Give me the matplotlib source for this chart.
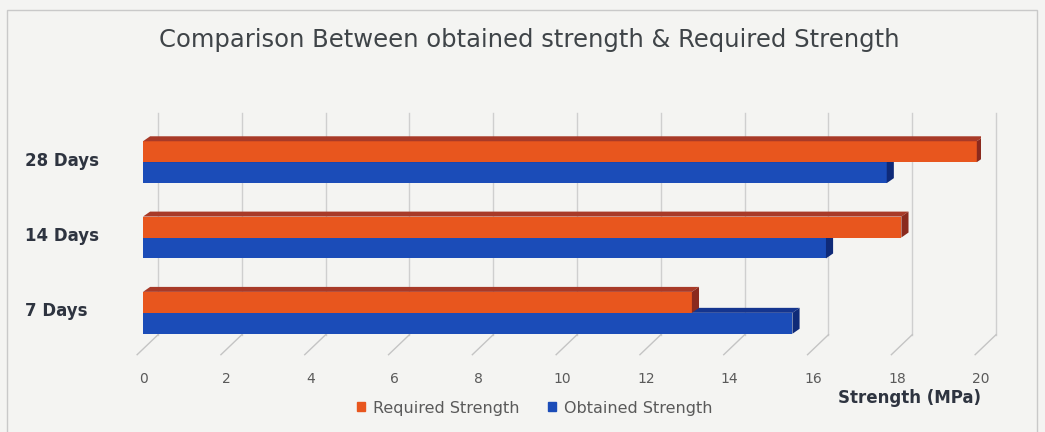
import numpy as np
import matplotlib.pyplot as plt
from matplotlib.patches import Polygon, Rectangle

plt.rcParams['font.family'] = ['DejaVu Sans']

ages = ['7 Days', '14 Days', '28 Days']
required = [13.1, 18.1, 19.9]
obtained = [15.5, 16.3, 17.75]
xticks = [0, 2, 4, 6, 8, 10, 12, 14, 16, 18, 20]

red, red_top, red_side = '#e8561e', '#a83a28', '#8a2a1e'
blue, blue_top, blue_side = '#1b4cb8', '#15358f', '#0f2a78'

fig = plt.figure(figsize=(10.45, 4.32), dpi=100, facecolor='#f4f4f2')
ax = fig.add_axes([143/1045, 1 - 358/432, 838/1045, 241/432])
ax.set_facecolor('none')
ax.set_xlim(0, 20)
ax.set_ylim(-0.6, 2.6)

# chart frame
fig.add_artist(Rectangle((7/1045, -0.05), 1030/1045, 1 - 10/432 + 0.05,
                         transform=fig.transFigure, fill=False,
                         edgecolor='#c9c9c9', lw=1))

# back wall gridlines and floor diagonals (3D look)
wall_dx, wall_top, wall_bot = 0.36, 2.65, -0.29
floor_dx, floor_y = -0.14, -0.556
for v in xticks:
    ax.plot([v + wall_dx, v + wall_dx], [wall_bot, wall_top], color='#cfcfcf',
            lw=1, clip_on=False, zorder=0)
    ax.plot([v + wall_dx, v + floor_dx], [wall_bot, floor_y], color='#c4c4c4',
            lw=1, clip_on=False, zorder=0)

pos = np.arange(len(ages))
h = 0.278
dx, dy = 0.17, 0.066


def bar3d(y, val, face, top, side, z):
    ax.barh(y, val, height=h, color=face, zorder=z)
    yt, yb = y + h / 2, y - h / 2
    ax.add_patch(Polygon([(0, yt), (val, yt), (val + dx, yt + dy), (dx, yt + dy)],
                         closed=True, color=top, zorder=z, lw=0))
    ax.add_patch(Polygon([(val, yb), (val, yt), (val + dx, yt + dy), (val + dx, yb + dy)],
                         closed=True, color=side, zorder=z, lw=0))


for i in pos:
    bar3d(i - h / 2, obtained[i], blue, blue_top, blue_side, 2)
    bar3d(i + h / 2, required[i], red, red_top, red_side, 3)

ax.set_xticks(xticks)
ax.set_xticklabels([str(t) for t in xticks], color='#5a5a5a', fontsize=10)
ax.tick_params(axis='x', length=0, pad=10)
ax.set_yticks([])
for s in ax.spines.values():
    s.set_visible(False)

# category labels, left aligned near the frame
for i, lab in enumerate(ages):
    ax.text(-118/41.9, i + 0.02, lab, fontsize=12, fontweight='bold',
            color='#2e3440', va='center', ha='left')

fig.text(529/1045, 1 - 40/432, 'Comparison Between obtained strength & Required Strength',
         fontsize=17.5, color='#3f4448', ha='center', va='center')
fig.text(910/1045, 1 - 398/432, 'Strength (MPa)', fontsize=12, fontweight='bold',
         color='#2e3440', ha='center', va='center')

handles = [Rectangle((0, 0), 1, 1, color=red), Rectangle((0, 0), 1, 1, color=blue)]
fig.legend(handles, ['Required Strength', 'Obtained Strength'], loc='center',
           bbox_to_anchor=(535/1045, 1 - 408/432), ncol=2, frameon=False,
           fontsize=11.5, labelcolor='#5a5a5a', handlelength=0.5, handleheight=0.5,
           handletextpad=0.5, columnspacing=1.8)

fig.savefig('out.png', dpi=100, facecolor=fig.get_facecolor())
